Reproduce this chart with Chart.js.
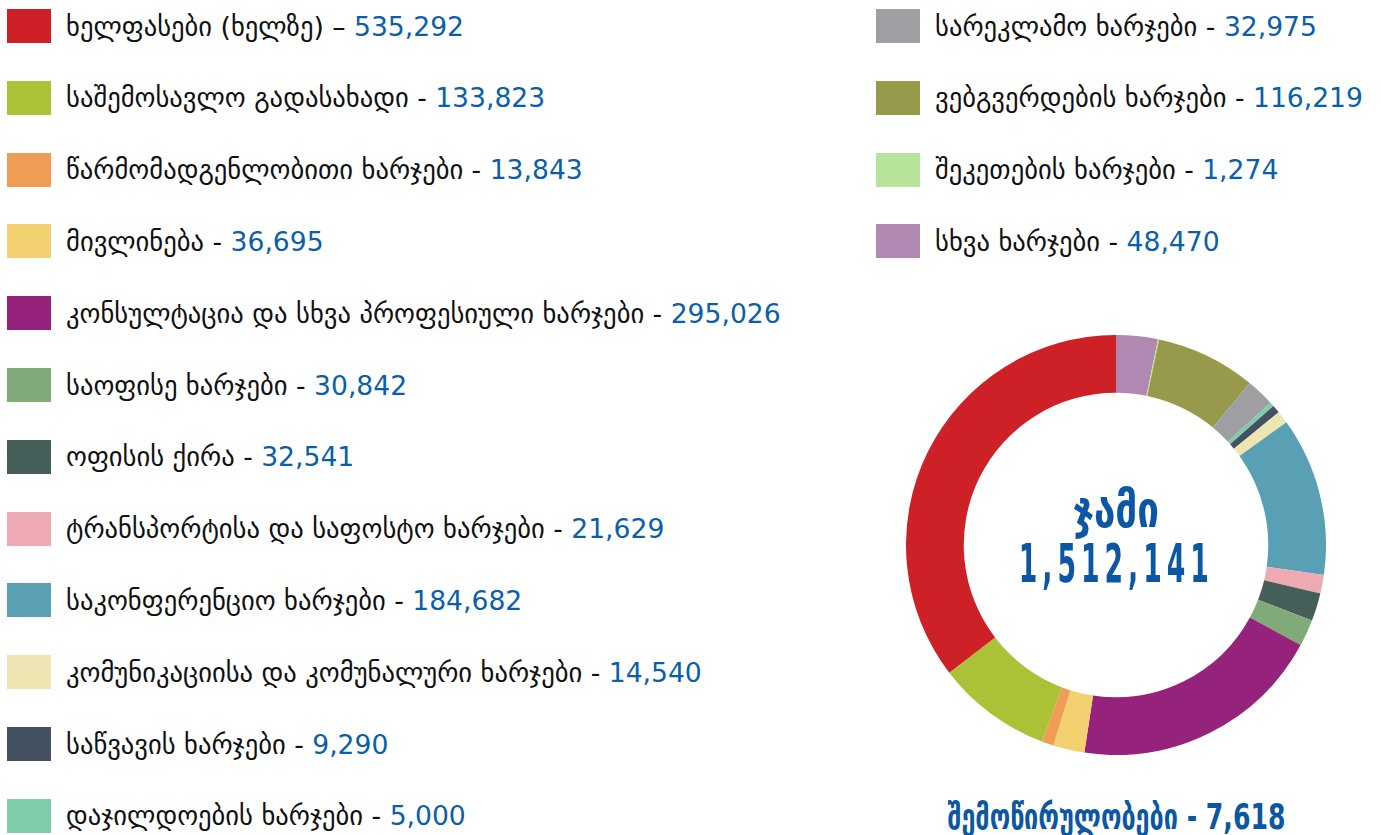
<!DOCTYPE html>
<html>
<head>
<meta charset="utf-8">
<script src="https://cdn.jsdelivr.net/npm/chart.js@4.4.1/dist/chart.umd.min.js"></script>
<style>
  body { margin: 0; background: #fff; width: 1381px; height: 835px; overflow: hidden; position: relative; font-family: "DejaVu Sans", sans-serif; }
  .item { position: absolute; height: 34px; display: flex; align-items: center; font-size: 26.6px; color: #111; white-space: nowrap; }
  .item .sw { width: 44px; height: 34px; margin-right: 15px; flex: none; }
  .item .val { color: #0b5fa8; }
  #chartBox { position: absolute; left: 906px; top: 335px; width: 420px; height: 420px; }
  .center { position: absolute; left: 716px; width: 800px; text-align: center; color: #0b57a4; font-weight: bold; white-space: nowrap; font-family: "DejaVu Sans Condensed", "DejaVu Sans", sans-serif; }
  .center span { display: inline-block; transform-origin: center; }
</style>
</head>
<body>
<div id="chartBox"><canvas id="donut"></canvas></div>
<div class="center" style="top: 485px; font-size: 50px; line-height: 50px;"><span data-w="86">ჯამი</span></div>
<div class="center" style="top: 539px; font-size: 54px; line-height: 50px;"><span data-w="195" style="letter-spacing: 9px;">1,512,141</span></div>
<div class="center" style="top: 797px; font-size: 36px; line-height: 40px;"><span data-w="338">შემოწირულობები - 7,618</span></div>
<script>
const labels = [
    'ხელფასები (ხელზე)', 'საშემოსავლო გადასახადი', 'წარმომადგენლობითი ხარჯები', 'მივლინება',
    'კონსულტაცია და სხვა პროფესიული ხარჯები', 'საოფისე ხარჯები', 'ოფისის ქირა',
    'ტრანსპორტისა და საფოსტო ხარჯები', 'საკონფერენციო ხარჯები', 'კომუნიკაციისა და კომუნალური ხარჯები',
    'საწვავის ხარჯები', 'დაჯილდოების ხარჯები',
    'სარეკლამო ხარჯები', 'ვებგვერდების ხარჯები', 'შეკეთების ხარჯები', 'სხვა ხარჯები'
];
const values = [535292, 133823, 13843, 36695, 295026, 30842, 32541, 21629, 184682, 14540, 9290, 5000, 32975, 116219, 1274, 48470];
const colors = ['#ce2027', '#abc237', '#ef9c55', '#f3d171', '#96237b', '#80aa77', '#455e5a', '#edaab3',
    '#5aa0b5', '#eee6b2', '#445163', '#7dccaa', '#9e9ea3', '#989a4b', '#b8e39a', '#b088b2'];
const dashes = ['–', '-', '-', '-', '-', '-', '-', '-', '-', '-', '-', '-', '-', '-', '-', '-'];
const leftCount = 12;

function buildLegend() {
    labels.forEach((label, i) => {
        const div = document.createElement('div');
        div.className = 'item';
        const col = i < leftCount ? 0 : 1;
        const row = col === 0 ? i : i - leftCount;
        div.style.left = (col === 0 ? 7 : 876) + 'px';
        div.style.top = (9 + row * 71.8) + 'px';
        div.innerHTML = `<span class="sw" style="background:${colors[i]}"></span>` +
            `<span>${label} ${dashes[i]} <span class="val">${values[i].toLocaleString('en-US')}</span></span>`;
        document.body.appendChild(div);
    });
}

// squeeze the bold centre texts to the narrow look of the original
function fitCenterTexts() {
    document.querySelectorAll('.center span').forEach(s => {
        const target = parseFloat(s.dataset.w);
        const w = s.getBoundingClientRect().width;
        s.style.transform = `scaleX(${target / w})`;
    });
}

// the picture runs counterclockwise from 12 o'clock, Chart.js goes clockwise: feed it reversed
const ctx = document.getElementById('donut').getContext('2d');
new Chart(ctx, {
    type: 'doughnut',
    data: {
        labels: labels.slice().reverse(),
        datasets: [{
            data: values.slice().reverse(),
            backgroundColor: colors.slice().reverse(),
            borderWidth: 0
        }]
    },
    options: {
        responsive: true,
        maintainAspectRatio: false,
        animation: false,
        cutout: '72.5%',
        plugins: { legend: { display: false }, tooltip: { enabled: false } }
    }
});

buildLegend();
fitCenterTexts();
</script>
</body>
</html>
